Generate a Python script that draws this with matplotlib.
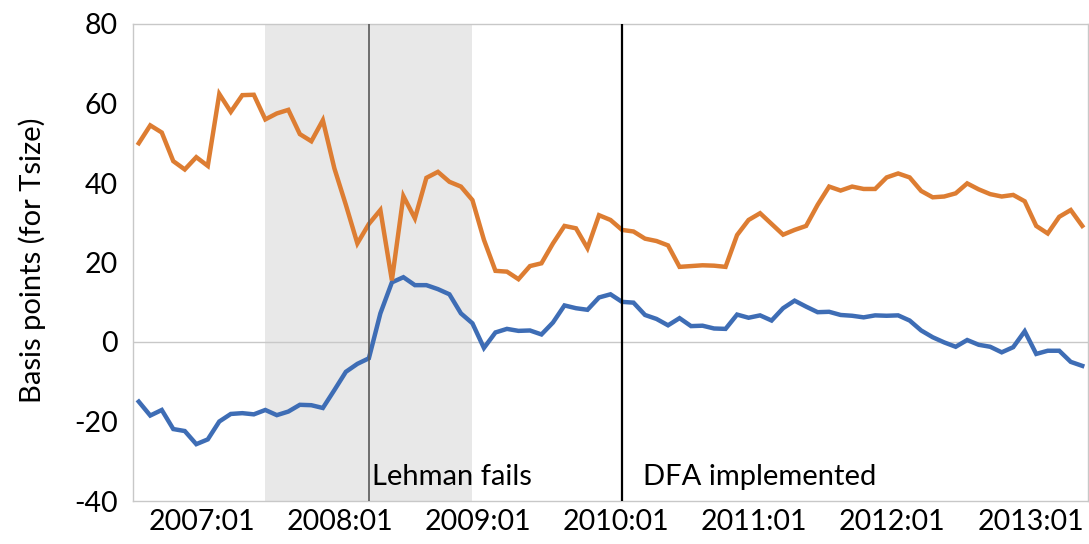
import matplotlib
matplotlib.use("Agg")
import matplotlib.pyplot as plt
import numpy as np

plt.rcParams['font.family'] = ['Lato', 'DejaVu Sans']
plt.rcParams['axes.unicode_minus'] = False

# Monthly observations, 2007:01 .. 2013:11
months = [f"{2007 + i // 12}:{i % 12 + 1:02d}" for i in range(83)]

orange_series = [
    50.0, 54.5, 52.7, 45.5, 43.4, 46.5, 44.3, 62.4, 57.9, 62.1,
    62.2, 56.0, 57.5, 58.4, 52.3, 50.5, 55.8, 43.7, 34.5, 24.8,
    29.7, 33.2, 15.5, 36.7, 31.1, 41.3, 42.8, 40.3, 39.1, 35.7,
    25.7, 17.9, 17.7, 15.8, 19.1, 19.8, 24.8, 29.2, 28.6, 23.6,
    31.9, 30.7, 28.2, 27.8, 26.0, 25.4, 24.3, 18.9, 19.1, 19.3,
    19.2, 18.9, 26.9, 30.7, 32.4, 29.7, 27.0, 28.2, 29.2, 34.5,
    39.1, 38.1, 39.1, 38.5, 38.5, 41.4, 42.4, 41.4, 38.0, 36.4,
    36.6, 37.4, 39.9, 38.4, 37.2, 36.6, 37.0, 35.4, 29.2, 27.3,
    31.5, 33.2, 29.2,
]

blue_series = [
    -15.0, -18.5, -17.1, -21.9, -22.4, -25.7, -24.5, -20.0, -18.1, -17.9,
    -18.2, -17.1, -18.4, -17.5, -15.8, -15.9, -16.6, -12.1, -7.5, -5.5,
    -4.1, 7.2, 15.0, 16.3, 14.3, 14.3, 13.3, 12.0, 7.2, 4.7,
    -1.5, 2.4, 3.3, 2.8, 2.9, 1.9, 4.9, 9.2, 8.5, 8.1,
    11.2, 12.0, 10.1, 9.9, 6.8, 5.8, 4.2, 6.0, 4.0, 4.1,
    3.4, 3.3, 6.9, 6.1, 6.7, 5.4, 8.5, 10.4, 8.9, 7.5,
    7.6, 6.8, 6.6, 6.2, 6.7, 6.6, 6.7, 5.4, 2.9, 1.2,
    -0.1, -1.2, 0.5, -0.7, -1.2, -2.6, -1.3, 2.7, -3.0, -2.2,
    -2.2, -5.0, -6.0,
]

tick_labels = ["2007:01", "2008:01", "2009:01", "2010:01", "2011:01", "2012:01", "2013:01"]
recession_start, recession_end = "2007:12", "2009:06"
events = [("2008:09", "Lehman fails"), ("2010:07", "DFA implemented")]

x = np.arange(len(months))
idx = {m: i for i, m in enumerate(months)}

fig = plt.figure(figsize=(10.89, 5.44), dpi=100)
ax = fig.add_axes([133 / 1089, (544 - 501) / 544, 955 / 1089, (501 - 24) / 544])

ax.axvspan(idx[recession_start], idx[recession_end], color='#E8E8E8', lw=0, zorder=0)
ax.axhline(0, color='#C8C8C8', lw=1.0, zorder=1)

ax.plot(x, blue_series, color='#3E6DB5', lw=3.2, zorder=3, solid_joinstyle='miter')
ax.plot(x, orange_series, color='#DD7D32', lw=3.2, zorder=3, solid_joinstyle='miter')

ax.axvline(idx[events[0][0]], color='#595959', lw=1.2, zorder=4)
ax.axvline(idx[events[1][0]], color='#000000', lw=1.6, zorder=4)
text_offsets = [0.3, 1.85]
for (m, label), off in zip(events, text_offsets):
    ax.text(idx[m] + off, -36, label, fontsize=21, color='black',
            ha='left', va='baseline', zorder=5)

ax.set_xlim(-0.5, len(months) - 0.5)
ax.set_ylim(-40, 80)
ax.set_yticks([-40, -20, 0, 20, 40, 60, 80])
ax.set_xticks([idx[t] + 5.5 for t in tick_labels])
ax.set_xticklabels(tick_labels)
ax.tick_params(axis='both', length=0, labelsize=20.5, colors='black')
ax.tick_params(axis='x', pad=6)
ax.tick_params(axis='y', pad=11)

for s in ax.spines.values():
    s.set_color('#C8C8C8')
    s.set_linewidth(1.0)

ax.set_ylabel("Basis points (for Tsize)", fontsize=21)
ax.yaxis.set_label_coords(-0.1058, 0.505)
ax.yaxis.label.set_va('center')

fig.savefig("out.png", dpi=100)
